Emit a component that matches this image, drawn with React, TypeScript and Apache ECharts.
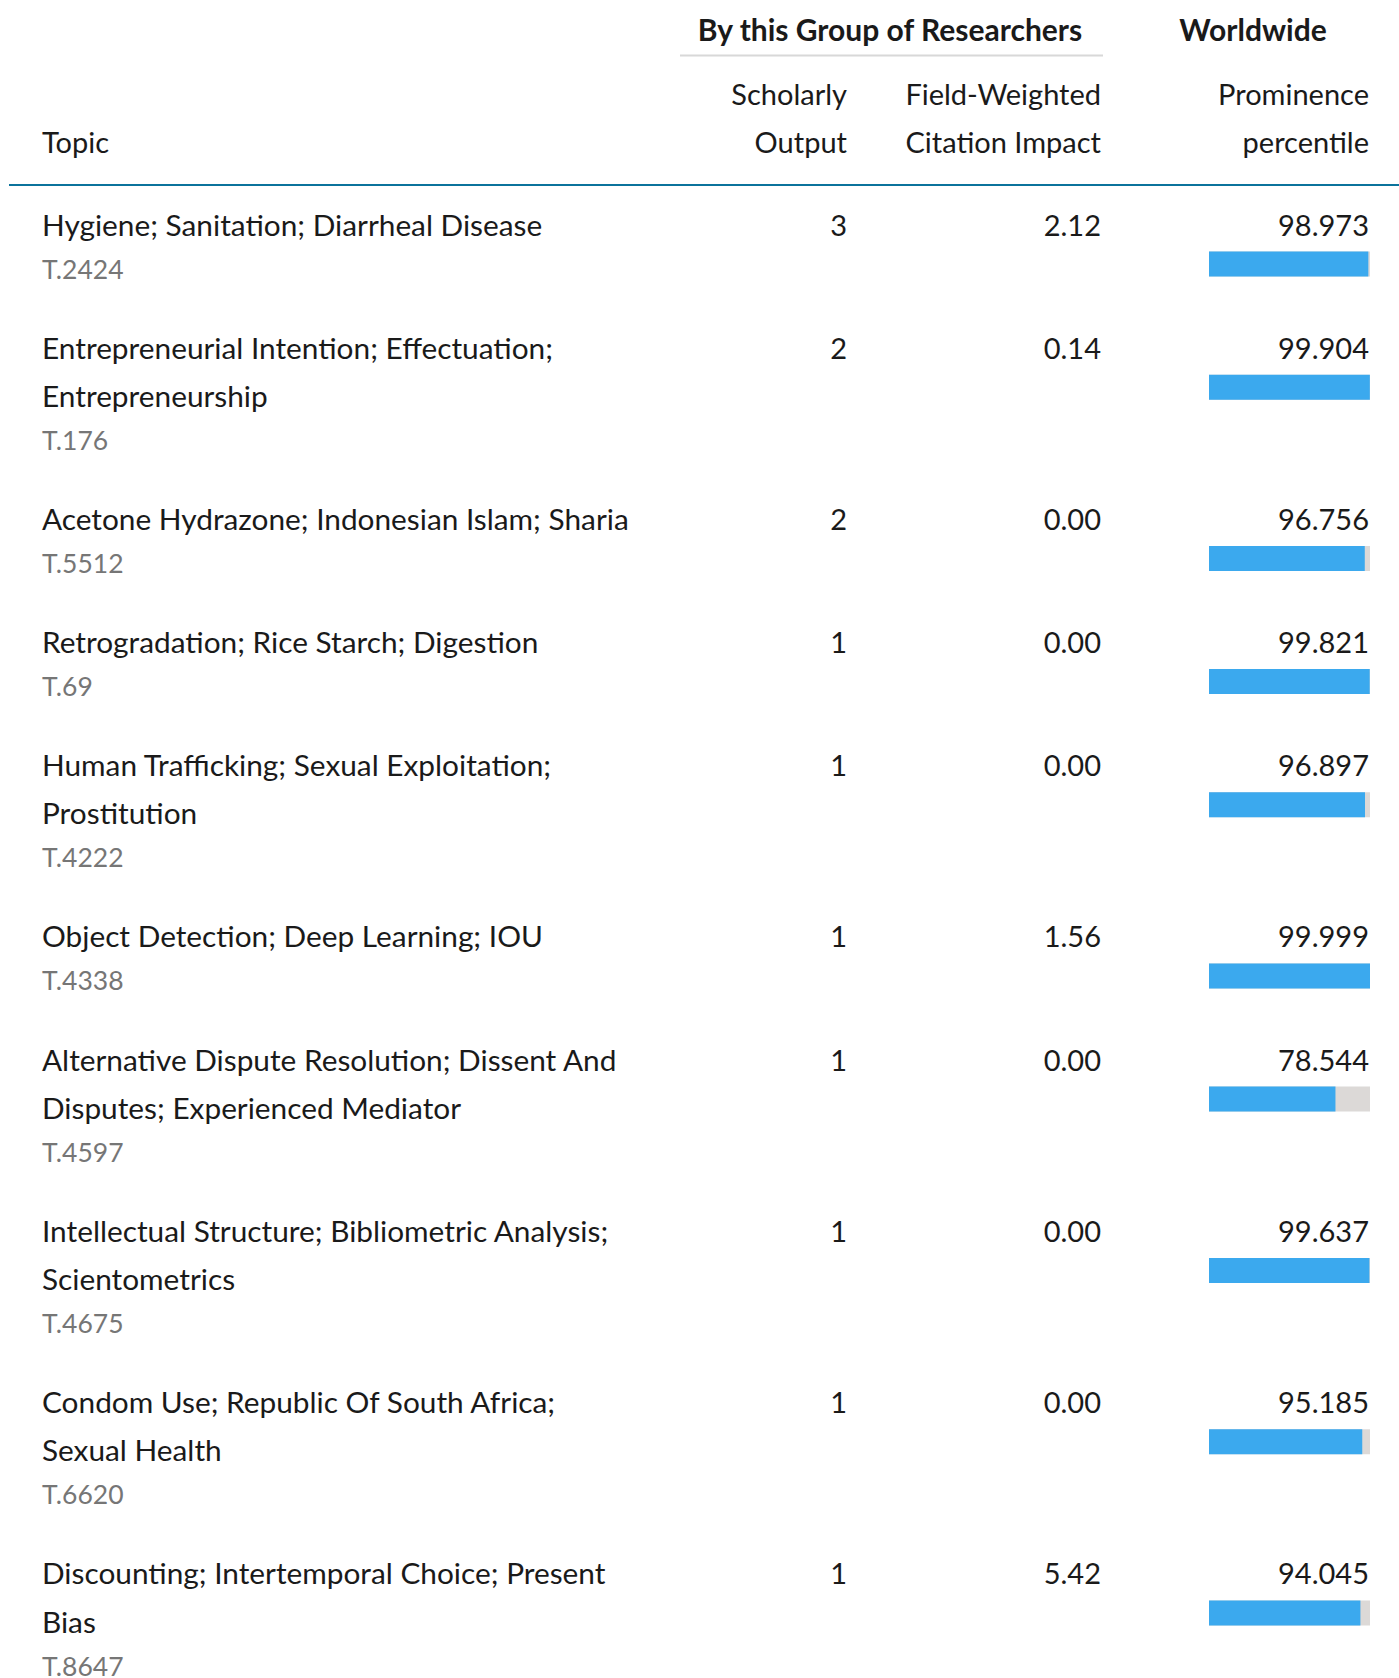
import React, { useEffect, useRef } from "react";
import * as echarts from "echarts";

const topics = [
  "Hygiene; Sanitation; Diarrheal Disease",
  "Entrepreneurial Intention; Effectuation;\nEntrepreneurship",
  "Acetone Hydrazone; Indonesian Islam; Sharia",
  "Retrogradation; Rice Starch; Digestion",
  "Human Trafficking; Sexual Exploitation;\nProstitution",
  "Object Detection; Deep Learning; IOU",
  "Alternative Dispute Resolution; Dissent And\nDisputes; Experienced Mediator",
  "Intellectual Structure; Bibliometric Analysis;\nScientometrics",
  "Condom Use; Republic Of South Africa;\nSexual Health",
  "Discounting; Intertemporal Choice; Present\nBias",
];
const topicCodes = ["T.2424", "T.176", "T.5512", "T.69", "T.4222", "T.4338", "T.4597", "T.4675", "T.6620", "T.8647"];
const scholarlyOutput = [3, 2, 2, 1, 1, 1, 1, 1, 1, 1];
const fwci = [2.12, 0.14, 0.0, 0.0, 0.0, 1.56, 0.0, 0.0, 0.0, 5.42];
const prominence = [98.973, 99.904, 96.756, 99.821, 96.897, 99.999, 78.544, 99.637, 95.185, 94.045];

const FONT = "Lato";
const TEXT = "#1a1a1a";
const CODE = "#767676";

export default function App() {
  const ref = useRef<HTMLDivElement>(null);
  useEffect(() => {
    document.body.style.margin = "0";
    const chart = echarts.init(ref.current!, undefined, { renderer: "svg" });

    const LEFT = 42;
    const COL_SO = 847;
    const COL_FW = 1101;
    const COL_PR = 1369;
    const BAR_L = 1209;
    const BAR_W = 161;
    const BAR_H = 25;
    const LINE_H = 48.2;
    const ROW_H = 123.1;
    const FS = 29;

    const graphic: any[] = [];
    const txt = (text: string, x: number, y: number, align: string, opts: any = {}) => {
      graphic.push({
        type: "text",
        x,
        y,
        silent: true,
        style: {
          text,
          align,
          verticalAlign: "middle",
          fill: opts.fill || TEXT,
          font: `${opts.weight || "normal"} ${opts.size || FS}px ${FONT}`,
        },
      });
    };

    // header
    txt("By this Group of Researchers", 890, 28.5, "center", { weight: "bold", size: 30 });
    txt("Worldwide", 1253, 28.5, "center", { weight: "bold", size: 30 });
    graphic.push({ type: "line", shape: { x1: 680, y1: 55.5, x2: 1103, y2: 55.5 }, style: { stroke: "#d8d8d8", lineWidth: 2 } });
    txt("Scholarly", COL_SO, 93.5, "right");
    txt("Output", COL_SO, 141.5, "right");
    txt("Field-Weighted", COL_FW, 93.5, "right");
    txt("Citation Impact", COL_FW, 141.5, "right");
    txt("Prominence", COL_PR, 93.5, "right");
    txt("percentile", COL_PR, 141.5, "right");
    txt("Topic", LEFT, 141.5, "left");
    graphic.push({ type: "line", shape: { x1: 9, y1: 185, x2: 1399, y2: 185 }, style: { stroke: "#0b739c", lineWidth: 2 } });

    const grids: any[] = [];
    const xAxes: any[] = [];
    const yAxes: any[] = [];
    const series: any[] = [];

    let y1 = 224.8;
    topics.forEach((t, i) => {
      const lines = t.split("\n");
      lines.forEach((ln, k) => txt(ln, LEFT, y1 - 0.8 + k * LINE_H, "left", { size: 29.8 }));
      txt(topicCodes[i], LEFT, y1 - 0.8 + (lines.length - 1) * LINE_H + 44.5, "left", { fill: CODE, size: 26.5 });
      txt(String(scholarlyOutput[i]), COL_SO, y1 - 0.8, "right");
      txt(fwci[i].toFixed(2), COL_FW, y1 - 0.8, "right");
      txt(prominence[i].toFixed(3), COL_PR, y1 - 0.8, "right");

      grids.push({ left: BAR_L, top: y1 + 26.8, width: BAR_W, height: BAR_H });
      xAxes.push({ type: "value", gridIndex: i, min: 0, max: 100, show: false });
      yAxes.push({ type: "category", gridIndex: i, data: [topicCodes[i]], show: false });
      series.push({
        type: "bar",
        xAxisIndex: i,
        yAxisIndex: i,
        data: [prominence[i]],
        barWidth: "100%",
        showBackground: true,
        backgroundStyle: { color: "#dcd9d7" },
        itemStyle: { color: "#3ba9ee" },
        silent: true,
      });

      y1 += ROW_H + (lines.length - 1) * LINE_H;
    });

    chart.setOption({
      animation: false,
      backgroundColor: "#ffffff",
      grid: grids,
      xAxis: xAxes,
      yAxis: yAxes,
      series,
      graphic,
    });
    return () => chart.dispose();
  }, []);
  return <div ref={ref} style={{ width: 1399, height: 1678 }} />;
}
